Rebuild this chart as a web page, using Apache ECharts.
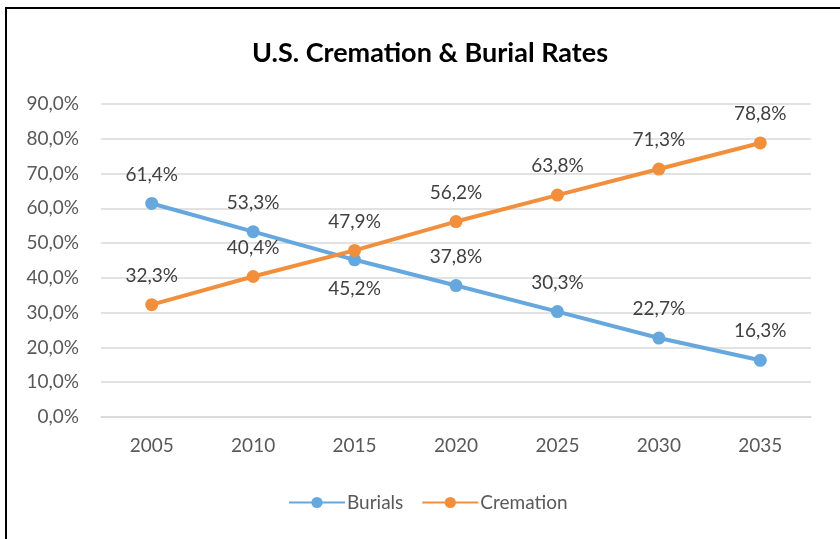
<!DOCTYPE html>
<html>
<head>
<meta charset="utf-8">
<script src="https://cdn.jsdelivr.net/npm/echarts@6/dist/echarts.min.js"></script>
<style>
  html, body { margin: 0; padding: 0; background: #fff; overflow: hidden; }
  #frame {
    position: absolute; left: 5px; top: 7px; width: 860px; height: 560px;
    border-left: 2px solid #000; border-top: 2px solid #000;
  }
  #chart { position: absolute; left: 0; top: 0; width: 840px; height: 539px; }
</style>
</head>
<body>
<div id="frame"></div>
<div id="chart"></div>
<script>
const years = ["2005", "2010", "2015", "2020", "2025", "2030", "2035"];
const burials = [61.4, 53.3, 45.2, 37.8, 30.3, 22.7, 16.3];
const cremation = [32.3, 40.4, 47.9, 56.2, 63.8, 71.3, 78.8];
// label below the point only where the lines cross
const burialsLabelPos = ["top", "top", "bottom", "top", "top", "top", "top"];

const fmt = v => v.toFixed(1).replace(".", ",") + "%";
const font = "Lato, 'Open Sans', sans-serif";

const chart = echarts.init(document.getElementById("chart"));

chart.setOption({
  animation: false,
  title: {
    text: "U.S. Cremation & Burial Rates",
    left: 425, top: 35, textAlign: "center",
    textStyle: { fontFamily: font, fontSize: 27, fontWeight: "bold", color: "#000" }
  },
  legend: {
    bottom: 22, left: 283,
    itemWidth: 56, itemHeight: 14, itemGap: 18,
    textStyle: { fontFamily: font, fontSize: 19, color: "#595959", padding: [0, 0, 0, -3] },
    data: ["Burials", "Cremation"]
  },
  grid: { left: 101, right: 29, top: 104, bottom: 122 },
  xAxis: {
    type: "category",
    data: years,
    boundaryGap: true,
    axisTick: { show: false },
    axisLine: { lineStyle: { color: "#d9d9d9", width: 1.5 } },
    axisLabel: { fontFamily: font, fontSize: 19, color: "#595959", margin: 19 }
  },
  yAxis: {
    type: "value",
    min: 0, max: 90, interval: 10,
    axisLine: { show: false },
    axisTick: { show: false },
    splitLine: { lineStyle: { color: "#d9d9d9", width: 1.5 } },
    axisLabel: { fontFamily: font, fontSize: 19, color: "#595959", margin: 22, formatter: fmt }
  },
  series: [
    {
      name: "Burials",
      type: "line",
      data: burials.map((v, i) => ({ value: v, label: { position: burialsLabelPos[i] } })),
      symbol: "circle", symbolSize: 13,
      lineStyle: { color: "#66a8de", width: 4 },
      itemStyle: { color: "#66a8de" },
      label: {
        show: true, distance: 13, fontFamily: font, fontSize: 19, color: "#404040",
        formatter: p => fmt(p.value)
      }
    },
    {
      name: "Cremation",
      type: "line",
      data: cremation,
      symbol: "circle", symbolSize: 13,
      lineStyle: { color: "#f28f3d", width: 4 },
      itemStyle: { color: "#f28f3d" },
      label: {
        show: true, position: "top", distance: 13, fontFamily: font, fontSize: 19, color: "#404040",
        formatter: p => fmt(p.value)
      }
    }
  ]
});
</script>
</body>
</html>
